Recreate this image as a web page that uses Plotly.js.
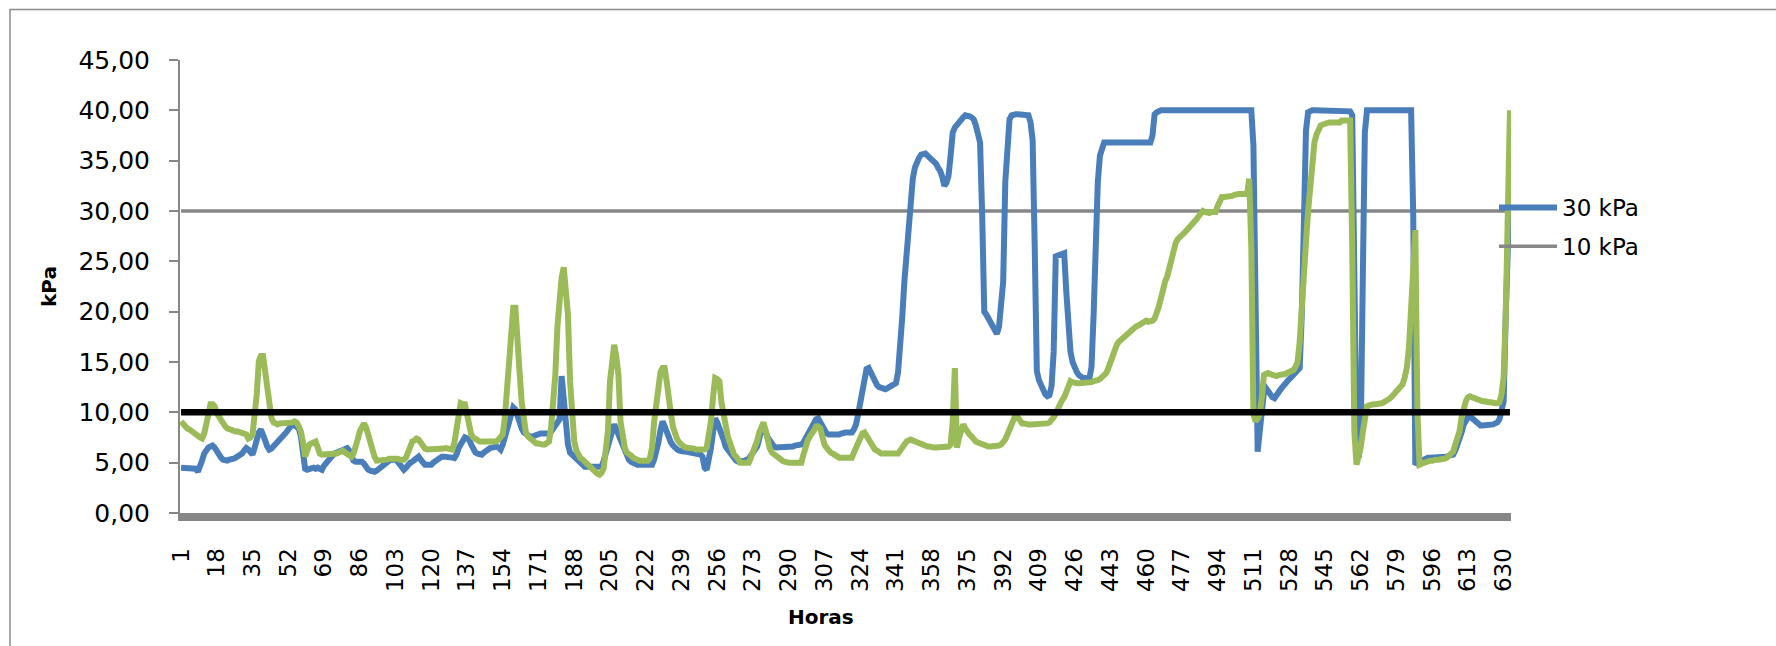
<!DOCTYPE html>
<html>
<head>
<meta charset="utf-8">
<script src="https://cdn.plot.ly/plotly-3.0.1.min.js"></script>
<style>
html,body{margin:0;padding:0;background:#fff;}
#chart{width:1776px;height:646px;}
</style>
</head>
<body>
<div id="chart"></div>
<script>
// Tick labels of the hour axis
const tickLabels = ['1','18','35','52','69','86','103','120','137','154','171','188','205','222','239','256','273','290','307','324','341','358','375','392','409','426','443','460','477','494','511','528','545','562','579','596','613','630'];

// Series "30 kPa" (blue), one value per hour
const serie30kPa = [
4.5,4.5,4.4,4.5,4.5,4.5,4.5,4.4,4.1,4.5,
5.2,5.9,6.3,6.5,6.6,6.7,6.5,6.1,5.8,5.5,
5.3,5.2,5.2,5.3,5.3,5.4,5.5,5.6,5.7,5.9,
6.2,6.45,6.3,6.0,5.8,6.5,7.3,8.0,8.3,7.9,
7.2,6.6,6.3,6.4,6.6,6.8,7.0,7.3,7.5,7.8,
8.0,8.3,8.6,8.8,8.7,8.5,8.4,7.6,5.5,4.4,
4.3,4.4,4.45,4.5,4.4,4.5,4.4,4.3,4.7,5.0,
5.3,5.5,5.7,5.9,6.0,6.1,6.2,6.3,6.4,6.45,
6.2,5.7,5.2,5.1,5.1,5.2,5.1,4.9,4.5,4.3,
4.2,4.1,4.1,4.2,4.4,4.6,4.8,5.0,5.1,5.2,
5.3,5.3,5.3,5.1,4.8,4.45,4.3,4.5,4.8,5.0,
5.1,5.3,5.5,5.6,5.3,4.9,4.8,4.8,4.8,4.8,
5.0,5.2,5.4,5.6,5.6,5.6,5.6,5.6,5.5,5.5,
5.45,5.8,6.45,6.9,7.3,7.5,7.4,7.3,6.8,6.2,
6.0,5.9,5.8,5.8,6.0,6.2,6.4,6.45,6.5,6.6,
6.6,6.5,6.3,6.8,7.6,8.4,9.2,9.9,10.5,10.3,
9.5,8.8,8.4,8.0,7.8,7.7,7.6,7.6,7.7,7.8,
7.9,7.9,7.9,7.9,7.9,7.9,8.1,8.4,8.7,9.0,
9.3,13.6,11.0,8.1,6.8,6.0,5.8,5.4,5.2,5.0,
4.9,4.8,4.6,4.6,4.6,4.6,4.6,4.6,4.6,4.6,
4.6,5.2,5.9,6.45,7.5,8.3,8.8,8.3,7.8,7.2,
6.6,6.1,5.7,5.3,5.1,5.0,4.8,4.8,4.8,4.8,
4.8,4.8,4.8,4.8,4.8,5.3,6.0,7.0,8.2,9.1,
8.6,7.9,7.4,7.0,6.7,6.45,6.3,6.2,6.1,6.1,
6.1,6.05,6.05,6.05,6.05,6.0,5.9,5.8,5.6,4.5,
4.3,5.2,6.45,8.0,9.4,9.0,8.5,8.1,7.3,6.6,
6.3,6.0,5.7,5.4,5.2,5.1,5.1,5.2,5.2,5.3,
5.4,5.7,6.0,6.3,6.6,7.4,8.3,8.4,8.1,7.5,
7.1,6.8,6.6,6.5,6.5,6.5,6.5,6.5,6.6,6.6,
6.6,6.6,6.7,6.7,6.8,6.8,7.0,7.4,7.9,8.4,
8.8,9.1,9.3,9.4,9.0,8.6,8.2,7.9,7.8,7.8,
7.7,7.7,7.7,7.8,7.9,8.0,8.0,8.0,8.0,8.0,
8.3,8.8,9.8,11.1,12.6,13.7,14.3,14.4,13.9,13.4,
12.9,12.7,12.5,12.4,12.3,12.3,12.4,12.5,12.6,12.8,
12.9,14.0,16.4,19.5,23.0,26.0,28.9,31.5,33.2,34.3,
35.0,35.3,35.6,35.7,35.7,35.5,35.3,35.2,35.0,34.7,
34.3,34.0,33.4,32.5,32.8,33.5,35.5,37.8,38.3,38.6,
38.9,39.1,39.3,39.5,39.5,39.4,39.3,39.1,38.5,37.5,
36.8,29.6,20.0,19.7,19.3,19.0,18.5,17.9,17.8,18.5,
21.0,23.0,32.9,37.5,39.1,39.5,39.6,39.6,39.6,39.6,
39.6,39.6,39.6,39.5,38.8,37.0,26.3,14.1,13.2,12.6,
12.1,11.8,11.6,11.7,12.6,16.0,25.5,25.6,25.7,25.8,
25.8,22.0,18.0,16.0,15.0,14.4,14.0,13.7,13.5,13.4,
13.4,13.3,13.4,14.5,19.7,28.0,32.9,35.5,36.5,36.8,
36.8,36.8,36.8,36.8,36.8,36.8,36.8,36.8,36.8,36.8,
36.8,36.8,36.8,36.8,36.8,36.8,36.8,36.8,36.8,36.8,
36.8,36.8,37.5,39.6,39.8,40,40,40,40,40,
40,40,40,40,40,40,40,40,40,40,
40,40,40,40,40,40,40,40,40,40,
40,40,40,40,40,40,40,40,40,40,
40,40,40,40,40,40,40,40,40,40,
36.5,19.7,6.1,8.1,10.5,12.0,12.4,12.0,11.6,11.5,
11.4,11.6,12.0,12.3,12.6,12.9,13.1,13.3,13.5,13.7,
13.9,14.2,14.4,19.7,32.9,38.0,39.8,40,40,40,
40,40,40,40,40,40,40,40,40,40,
40,40,40,40,40,40,39.9,39.5,23.0,8.0,
5.5,7.0,23.0,37.8,40,40,40,40,40,40,
40,40,40,40,40,40,40,40,40,40,
40,40,40,40,40,40,29.6,4.8,5.0,5.1,
5.2,5.3,5.5,5.5,5.5,5.5,5.5,5.5,5.5,5.5,
5.5,5.6,5.6,5.7,5.7,5.8,6.2,6.7,7.2,8.0,
8.8,9.2,9.5,9.6,9.4,9.1,8.9,8.8,8.7,8.7,
8.7,8.7,8.7,8.8,8.8,8.9,9.0,9.3,10.0,11.1,
19.7,27.0,32.9
];

// Green series (not named in the visible legend), one value per hour
const serieVerde = [
9.1,8.8,8.6,8.4,8.3,8.1,8.0,7.8,7.6,7.5,
7.4,7.9,8.8,10.2,10.8,10.8,10.6,9.9,9.5,9.1,
8.8,8.6,8.4,8.3,8.2,8.2,8.1,8.1,8.0,8.0,
7.9,7.8,7.4,7.5,7.8,9.5,11.8,15.1,15.6,15.6,
14.0,12.4,10.6,9.4,9.0,8.8,8.8,8.9,8.9,8.9,
8.9,9.0,9.0,9.0,9.1,9.0,8.6,8.1,7.0,5.6,
6.2,6.8,6.9,7.0,7.1,6.5,5.9,5.8,5.8,5.8,
5.8,5.8,5.8,5.8,5.9,6.0,6.1,6.2,6.0,5.8,
5.6,5.6,5.9,6.45,7.3,8.1,8.6,8.9,8.5,7.8,
6.8,6.0,5.6,5.2,5.2,5.2,5.3,5.3,5.3,5.4,
5.4,5.45,5.45,5.4,5.3,5.3,5.3,5.5,6.0,6.6,
7.1,7.2,7.4,7.3,6.9,6.6,6.4,6.3,6.3,6.3,
6.3,6.3,6.3,6.3,6.4,6.4,6.45,6.4,6.3,6.3,
7.0,8.1,9.6,10.9,10.8,10.8,9.8,8.4,7.8,7.5,
7.3,7.2,7.1,7.1,7.1,7.1,7.1,7.1,7.1,7.1,
7.1,7.3,7.5,7.8,9.5,12.5,15.4,18.5,20.4,20.4,
18.0,14.0,11.0,8.8,8.0,7.6,7.4,7.2,7.0,6.9,
6.9,6.8,6.8,6.8,6.9,7.1,8.5,11.0,13.75,18.5,
21.5,23.4,24.4,22.5,19.7,13.1,9.5,7.1,6.2,5.7,
5.45,5.3,5.1,4.9,4.6,4.3,4.1,4.0,3.9,3.8,
4.0,4.45,6.0,8.1,13.1,15.0,16.7,15.5,13.75,9.1,
7.5,6.5,6.0,5.9,5.7,5.5,5.3,5.3,5.2,5.2,
5.1,5.1,5.2,5.45,6.5,9.1,11.0,13.1,14.0,14.4,
14.4,13.0,11.8,9.8,8.5,7.8,7.3,7.0,6.7,6.6,
6.5,6.5,6.45,6.4,6.4,6.3,6.3,6.3,6.3,6.3,
6.5,7.5,9.1,11.5,13.4,13.3,13.1,11.0,9.8,8.5,
7.6,7.0,6.3,5.8,5.6,5.3,5.0,5.0,5.0,5.0,
5.0,5.5,6.0,6.5,7.2,8.0,8.6,9.0,8.2,7.0,
6.4,6.0,5.8,5.6,5.4,5.3,5.2,5.1,5.0,5.0,
5.0,5.0,5.0,5.0,5.0,5.0,5.8,6.8,7.2,7.6,
7.8,8.2,8.6,8.6,8.4,7.5,6.8,6.5,6.2,6.0,
5.9,5.7,5.6,5.5,5.5,5.5,5.5,5.5,5.5,5.5,
6.0,6.5,7.0,7.5,7.9,8.0,7.6,7.2,6.8,6.5,
6.3,6.2,6.0,5.9,5.9,5.9,5.9,5.9,5.9,5.9,
5.9,5.9,6.2,6.6,7.0,7.1,7.2,7.3,7.2,7.1,
7.0,6.9,6.8,6.7,6.6,6.6,6.6,6.5,6.5,6.5,
6.5,6.5,6.5,6.6,6.6,6.6,6.8,9.1,14.4,6.5,
7.5,8.5,8.8,8.4,8.0,7.8,7.6,7.3,7.1,7.0,
6.9,6.8,6.7,6.7,6.6,6.6,6.6,6.6,6.6,6.7,
6.8,7.0,7.3,7.8,8.4,9.0,9.6,9.8,9.5,9.2,
8.9,8.9,8.8,8.8,8.8,8.8,8.8,8.8,8.8,8.8,
8.8,8.8,8.9,9.0,9.2,9.5,9.9,10.4,10.9,11.2,
11.5,12.1,12.6,13.1,13.0,12.9,12.9,12.9,12.9,12.9,
12.9,12.9,13.0,13.0,13.1,13.1,13.2,13.3,13.5,13.6,
13.9,14.4,15.0,15.8,16.3,16.7,17.0,17.2,17.4,17.6,
17.7,17.9,18.1,18.3,18.5,18.6,18.7,18.8,18.9,19.1,
19.0,19.0,19.1,19.3,19.8,20.5,21.3,22.3,23.0,23.5,
24.5,25.5,26.3,26.8,27.2,27.5,27.6,27.8,28.0,28.3,
28.5,28.6,28.8,29.2,29.5,29.8,30.0,29.9,29.8,29.8,
29.9,29.9,29.9,30.5,31.2,31.4,31.4,31.4,31.4,31.4,
31.5,31.6,31.7,31.7,31.7,31.7,31.7,31.7,33.2,26.3,
9.8,9.1,9.4,9.8,11.5,13.7,13.8,13.9,13.8,13.7,
13.6,13.6,13.7,13.7,13.7,13.8,13.9,14.0,14.1,14.2,
14.5,15.0,17.0,19.7,23.0,26.9,30.0,32.9,35.0,36.8,
37.6,38.2,38.5,38.6,38.7,38.7,38.8,38.8,38.8,38.8,
38.8,38.8,39.0,39.0,39.0,39.0,39.0,26.3,8.1,4.8,
5.6,6.5,8.0,9.8,10.6,10.7,10.8,10.8,10.8,10.8,
10.8,10.9,11.0,11.1,11.2,11.4,11.6,11.8,12.0,12.3,
12.4,12.8,13.5,14.5,16.5,20.0,24.3,28.1,10.0,4.8,
4.9,5.0,5.1,5.1,5.2,5.2,5.3,5.3,5.3,5.3,
5.3,5.4,5.5,5.7,5.9,6.1,6.8,7.5,8.1,9.5,
10.5,11.1,11.5,11.6,11.5,11.4,11.3,11.2,11.1,11.1,
11.1,11.0,11.0,11.0,10.9,10.9,10.9,11.0,11.8,13.5,
19.7,32.9,40.0
];

// Reference lines (first and last hour)
const limiteX = [1, 633];
const limite30 = [30, 30];
const limite10 = [10, 10];

const horas = serie30kPa.map((_, i) => i + 1);
const horasVerde = serieVerde.map((_, i) => i + 1);
const tickVals = tickLabels.map(Number);

const FONT = 'DejaVu Sans, Verdana, sans-serif';

const traces = [
  {x: limiteX, y: limite30, type: 'scatter', mode: 'lines', name: '10 kPa',
   line: {color: '#878787', width: 3.5}, legendrank: 2, legendgroup: 'g2', hoverinfo: 'skip'},
  {x: horas, y: serie30kPa, type: 'scatter', mode: 'lines', name: '30 kPa',
   line: {color: '#4A7EBB', width: 6, shape: 'linear'}, legendrank: 1, legendgroup: 'g1'},
  {x: horasVerde, y: serieVerde, type: 'scatter', mode: 'lines', name: 'Serie 3',
   line: {color: '#9BBB59', width: 6, shape: 'linear'}, showlegend: false, legendgroup: 'g3'},
  {x: limiteX, y: limite10, type: 'scatter', mode: 'lines', name: 'Límite',
   line: {color: '#000000', width: 6.5}, showlegend: false, legendgroup: 'g4', hoverinfo: 'skip'}
];

const L = 180, R = 1511, T = 60, B = 513;
const W = R - L, H = B - T;
const px = v => (v - L) / W;
const py = v => (B - v) / H;

const layout = {
  width: 1776, height: 646,
  margin: {l: L, r: 1776 - R, t: T, b: 646 - B, pad: 0},
  paper_bgcolor: '#ffffff', plot_bgcolor: '#ffffff',
  separators: ',.',
  font: {family: FONT, color: '#000000', size: 22},
  showlegend: true,
  legend: {
    x: px(1494), xanchor: 'left', y: py(186), yanchor: 'top',
    bgcolor: 'rgba(0,0,0,0)', borderwidth: 0,
    font: {family: FONT, size: 23, color: '#000'},
    itemwidth: 58, traceorder: 'grouped', tracegroupgap: 6
  },
  xaxis: {
    range: [0.5, 633.5], tickmode: 'array', tickvals: tickVals, ticktext: tickLabels,
    tickangle: -90, showgrid: false, zeroline: false,
    showline: true, linecolor: '#878787', linewidth: 8,
    ticks: '', ticklabelstandoff: 18,
    tickfont: {family: FONT, size: 23, color: '#000'},
    automargin: false, fixedrange: true
  },
  yaxis: {
    range: [0, 45], tick0: 0, dtick: 5, tickformat: '.2f',
    showgrid: false, zeroline: false,
    showline: true, linecolor: '#878787', linewidth: 2,
    ticks: 'outside', ticklen: 9, tickwidth: 2, tickcolor: '#878787',
    ticklabelstandoff: 14,
    tickfont: {family: FONT, size: 25, color: '#000'},
    title: {text: 'kPa', font: {family: FONT, size: 20, weight: 'bold', color: '#000'}, standoff: 16},
    automargin: false, fixedrange: true
  },
  annotations: [
    {text: 'Horas', xref: 'paper', yref: 'paper', x: px(821), y: py(617),
     xanchor: 'center', yanchor: 'middle', showarrow: false,
     font: {family: FONT, size: 20, weight: 'bold', color: '#000'}}
  ],
  shapes: [
    {type: 'rect', xref: 'paper', yref: 'paper', layer: 'below',
     x0: px(10), x1: px(1800), y0: py(700), y1: py(9.5),
     line: {color: '#8C8C8C', width: 1.5}, fillcolor: 'rgba(0,0,0,0)'}
  ]
};

Plotly.newPlot('chart', traces, layout, {staticPlot: true, displayModeBar: false});

if (serie30kPa.length !== 633 || serieVerde.length !== 633) {
  setTimeout(() => { throw new Error('length blue=' + serie30kPa.length + ' green=' + serieVerde.length); }, 0);
}
</script>
</body>
</html>
